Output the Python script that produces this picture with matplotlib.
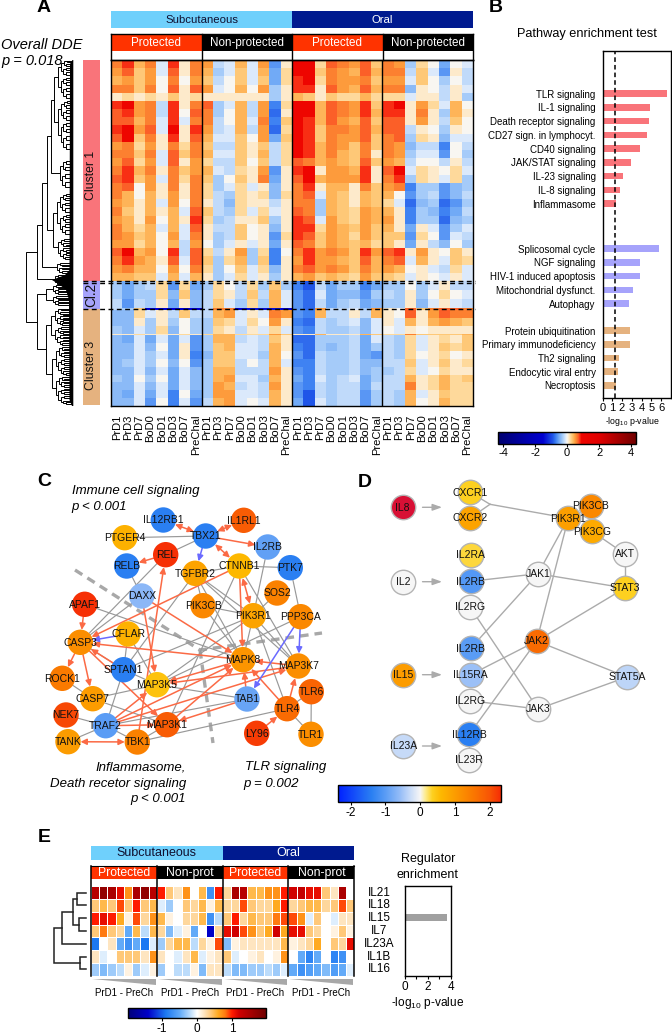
import numpy as np
import matplotlib
matplotlib.use('Agg')
import matplotlib.pyplot as plt
from matplotlib.cm import ScalarMappable
from matplotlib.colors import LinearSegmentedColormap, Normalize
from matplotlib.patches import Rectangle, Polygon

plt.rcParams['font.family'] = ['Liberation Sans', 'DejaVu Sans']
plt.rcParams['mathtext.default'] = 'regular'
plt.rcParams['axes.unicode_minus'] = False

W, H = 672, 1033

# ---- Panel A: heatmap, values in tenths of the colour scale ----
time_labels = ['PrD1', 'PrD3', 'PrD7', 'BoD0', 'BoD1', 'BoD3', 'BoD7', 'PreChal']

heat_cluster1 = [
    [6, 8, 4, 6, -1, 8, 1, 6, 5, -2, -1, 4, -1, 5, -6, 1, 9, 9, 2, 7, 6, 5, 7, 3, 6, 5, -3, 2, 0, -5, 0, -1],
    [5, 7, 3, 5, -1, 7, 1, 6, 4, -3, -1, 3, -1, 4, -5, 2, 9, 9, 3, 6, 5, 4, 7, 4, 6, 6, -2, 3, -1, -6, 1, -2],
    [4, 5, 3, 5, 0, 6, 0, 5, 3, -2, 0, 3, -1, 3, -5, 2, 8, 9, 2, 6, 5, 5, 6, 3, 5, 5, -1, 3, 0, -3, 0, -2],
    [6, 6, 3, 6, 0, 7, 1, 7, 5, -1, 0, 4, 0, 5, -3, 1, 8, 8, 1, 7, 5, 4, 7, 4, 6, 6, -4, 1, 0, -2, 1, -1],
    [1, 2, 1, 2, 1, 3, 1, 2, 1, 1, 1, 1, 1, 1, -3, 1, 4, 3, 1, 3, 2, 2, 4, 2, 2, 2, -1, 1, 1, -2, 1, -3],
    [8, 9, 5, 6, -2, 8, 1, 6, 7, -3, -1, 4, -2, 5, -7, 2, 9, 9, 4, 7, 6, 5, 8, 3, 8, 9, 1, 5, 2, -1, 4, 0],
    [7, 8, 5, 6, -2, 8, 0, 7, 6, -3, 0, 4, -2, 5, -8, 1, 9, 9, 4, 7, 6, 5, 8, 4, 8, 8, 1, 6, 1, -3, 4, 1],
    [7, 7, 4, 6, -1, 8, -1, 6, 6, -2, 0, 4, -1, 6, -7, 3, 9, 8, 4, 7, 5, 4, 7, 3, 7, 7, 1, 5, 1, -2, 3, 0],
    [8, 9, 5, 7, -1, 9, 1, 8, 5, -2, -1, 4, -2, 5, -8, 2, 9, 8, 3, 6, 6, 5, 7, 4, 7, 7, -2, 1, 0, -3, 1, 0],
    [7, 9, 3, 6, 1, 8, 1, 7, 4, -1, -1, 3, 0, 5, -5, 3, 9, 8, 3, 6, 5, 5, 7, 3, 6, 7, -3, 2, 1, -4, -1, -1],
    [5, 6, 2, 5, 1, 6, 2, 6, 3, -2, -2, 3, 1, 3, -2, 2, 9, 8, 4, 6, 5, 3, 6, 3, 6, 5, -4, -2, -2, -7, 0, -2],
    [6, 6, 3, 6, -1, 7, 3, 6, 4, -1, -1, 3, 1, 4, -2, 2, 9, 8, 4, 6, 4, 3, 6, 1, 6, 5, -3, -1, -1, -6, 0, -3],
    [5, 7, 2, 5, -1, 7, 1, 5, 2, -2, -2, 3, 0, 3, -2, 2, 7, 6, 4, 5, 4, 3, 7, 3, 5, 4, -2, 0, 0, -2, 1, -2],
    [6, 8, 4, 6, 1, 6, 3, 5, 4, -1, -2, 2, 1, 5, -6, 1, 8, 9, 1, 5, 5, 4, 8, 1, 7, 9, -1, 2, 1, 0, 2, -1],
    [7, 8, 3, 5, -1, 6, 2, 6, 3, -3, 0, 3, 1, 6, -5, 1, 7, 9, 4, 5, 5, 5, 8, 1, 6, 8, -3, 2, 1, -1, 2, -3],
    [6, 7, 0, 5, 1, 6, 1, 6, 2, -3, -1, 2, -1, 1, -4, 1, 6, 8, 1, 4, 4, 1, 6, 3, 5, 6, -7, -3, -3, -6, -4, -3],
    [6, 4, 0, 4, 1, 5, 1, 6, 2, -2, -3, 2, 1, 2, -4, 2, 6, 7, -1, 4, 3, 1, 4, 3, 4, 0, -6, -3, -2, -6, -4, -2],
    [5, 4, 1, 4, -1, 5, 0, 6, 1, -2, -4, 2, 1, 1, -2, 1, 6, 6, -3, 4, 3, 1, 4, 3, 2, -1, -8, -4, -3, -8, -6, -3],
    [6, 3, 1, 4, 1, 4, -1, 7, 3, -2, -3, 2, -1, 2, -1, 1, 7, 6, -3, 4, 3, 2, 5, 4, 4, 1, -7, -3, -4, -7, -5, -2],
    [5, 4, 1, 5, 0, 4, 1, 8, 2, -3, -2, 1, 1, 3, -3, 1, 8, 7, -1, 5, 3, 2, 5, 4, 5, 1, -7, -3, -3, -8, -4, -3],
    [6, 4, 2, 4, -1, 4, -1, 7, 1, -2, -2, 3, 0, 1, -4, 1, 8, 8, 2, 5, 4, 3, 5, 3, 4, 1, -5, 1, -1, -6, -3, -1],
    [6, 5, 3, 4, 0, 5, -1, 6, 1, -3, -2, 3, 0, 1, -6, 2, 8, 7, 3, 5, 4, 2, 5, 3, 3, 3, -6, 2, 0, -6, -1, -2],
    [5, 5, 2, 4, 0, 4, -2, 5, 0, -3, -1, 1, -1, 1, -5, 1, 7, 6, 3, 5, 4, 3, 4, 2, 3, 1, -5, 1, -2, -4, 0, -3],
    [7, 9, 4, 5, 0, 8, -2, 7, 2, -2, 1, 5, -3, 2, -7, 0, 6, 8, 5, 6, 5, 3, 8, 5, 7, 8, 1, 5, 1, 0, 3, 1],
    [6, 8, 5, 4, 1, 7, -1, 7, 3, -3, 2, 4, -3, 3, -7, 1, 5, 8, 5, 5, 4, 3, 7, 4, 6, 7, -1, 4, 1, -1, 3, 2],
    [5, 6, 4, 4, 0, 5, 0, 6, 2, -3, 0, 3, -1, 2, -4, 1, 6, 7, 5, 6, 5, 3, 6, 4, 5, 4, 0, 1, -1, -2, 2, -1],
    [4, 4, 3, 3, -1, 4, -1, 4, 1, -3, -1, 2, -1, 1, -3, 1, 4, 5, 3, 4, 3, 2, 5, 3, 3, 2, -1, 1, 0, -1, 1, -1],
]
heat_cluster2 = [
    [-3, -5, -3, -2, 2, -6, 2, -5, -3, 2, 0, -2, 2, -3, 3, -3, -7, -9, -2, -5, -3, -3, -7, -5, -3, -3, 0, -3, -1, 1, -2, -2],
    [-3, -5, -3, -3, 2, -4, 3, -4, -2, 2, 1, -2, 3, -2, 4, -1, -6, -8, -1, -5, -4, -4, -6, -3, -2, -3, 1, -3, 0, 2, 0, -1],
    [-2, -6, -2, -3, 1, -5, 1, -4, -2, 3, -1, -3, 2, -3, 4, -1, -6, -8, -2, -5, -3, -2, -5, -4, -3, -3, 1, -4, -1, 1, -1, -2],
]
heat_blue_line = [-2, -3, 3, -15, -15, -15, -15, -15, -2, 6, 6, -15, -14, -14, -14, -15, -6, -8, 5, -2, -2, -1, -3, 5, 1, 0, 7, 3, 6, 7, 7, 6]
heat_cluster3_top = [
    [-4, -4, 2, -1, 1, -2, 3, -2, -2, 4, 5, -1, 1, -1, 6, 5, -6, -7, 4, -2, -2, 1, -2, 4, 1, 0, 7, 1, 5, 7, 6, 6],
    [-4, -4, 1, -3, 1, -3, 0, -3, -3, 3, 2, -1, 2, 0, 5, 1, -7, -8, -2, -3, -2, -1, -4, -1, 1, -1, 4, 1, 4, 5, 4, 3],
    [-3, -4, -1, -3, 2, -4, 0, -3, -3, 2, 1, -2, 1, -1, 2, -1, -6, -7, -2, -3, -3, -2, -4, -1, 0, -1, 1, 0, 1, 1, 1, 1],
]
heat_salmon_line = [1, 1, 2, 1, 1, 1, 2, 1, 2, 4, 4, 2, 2, 2, 5, 3, 1, 1, 4, 1, 1, 1, 4, 3, 2, 2, 6, 3, 3, 3, 3, 4]
heat_cluster3_low = [
    [-4, -5, -1, -5, -1, -5, -1, -6, -3, 4, 4, -2, -1, -2, 3, 1, -8, -8, -3, -3, -3, -2, -5, -1, -2, -3, 2, -1, 1, 2, 1, 3],
    [-4, -4, -1, -4, 0, -5, 1, -6, -3, 3, 4, -1, -1, -2, 4, 1, -7, -8, -3, -4, -3, -2, -5, -3, -2, -3, 2, -1, 1, 3, 2, 3],
    [-4, -4, -1, -3, -1, -5, 1, -7, -4, 3, 3, -1, -1, -3, 4, 0, -6, -8, -2, -3, -3, -2, -5, -6, -2, -3, 2, 0, 1, 2, 0, 1],
    [-4, -3, -1, -3, 0, -4, 0, -6, -3, 3, 3, -2, 0, -2, 4, -1, -7, -7, -2, -3, -3, -2, -4, -4, -2, -2, 3, -1, 1, 3, 1, 2],
    [-4, -4, -1, -4, -1, -5, -1, -4, -3, 4, 4, -2, -2, -2, 5, 1, -6, -7, -2, -3, -3, -2, -4, -3, -3, -2, 2, -1, 0, 2, 1, 1],
    [-3, -4, 0, -3, 0, -5, -1, -4, -3, 4, 5, -1, -1, -3, 4, 1, -5, -7, -1, -3, -2, -1, -5, -3, -2, -2, 4, 1, 2, 4, 2, 3],
    [-4, -4, -1, -4, -1, -5, -1, -4, -3, 5, 4, -2, -1, -2, 5, 1, -6, -7, -2, -3, -2, -2, -5, -2, -2, -2, 6, 1, 2, 4, 2, 2],
    [-4, -5, -1, -5, -1, -7, 0, -5, -3, 5, 5, -1, -1, -2, 4, 1, -6, -9, -2, -3, -2, -2, -6, -3, -2, -3, 4, -1, 1, 3, 2, 2],
    [-4, -4, -1, -6, 0, -7, -1, -6, -2, 4, 5, -1, 0, -1, 4, 1, -5, -9, -1, -3, -2, -2, -6, -3, -2, -3, 4, 0, 1, 4, 2, 2],
]

# ---- Panel B ----
pathways_red = ['TLR signaling', 'IL-1 signaling', 'Death receptor signaling', 'CD27 sign. in lymphocyt.',
                'CD40 signaling', 'JAK/STAT signaling', 'IL-23 signaling', 'IL-8 signaling', 'Inflammasome']
pvals_red = [6.65, 4.9, 4.77, 4.6, 3.85, 2.95, 2.1, 1.75, 1.35]
pathways_blue = ['Splicosomal cycle', 'NGF signaling', 'HIV-1 induced apoptosis', 'Mitochondrial dysfunct.', 'Autophagy']
pvals_blue = [5.75, 3.8, 3.8, 3.1, 2.7]
pathways_tan = ['Protein ubiquitination', 'Primary immunodeficiency', 'Th2 signaling', 'Endocytic viral entry', 'Necroptosis']
pvals_tan = [2.85, 2.85, 1.7, 1.6, 1.35]

# ---- Panel C: node -> z value (colour scale of the bar under panel D) ----
c_values = {
    'IL12RB1': -1.4, 'IL1RL1': 1.9, 'TBX21': -1.4, 'PTGER4': 0.7, 'IL2RB': -0.95, 'REL': 2.3, 'RELB': -1.4,
    'TGFBR2': 0.9, 'CTNNB1': 0.6, 'PTK7': -1.4, 'DAXX': -0.65, 'SOS2': 1.4, 'PIK3CB': 1.3, 'APAF1': 2.3,
    'PIK3R1': 0.9, 'PPP3CA': 1.3, 'CFLAR': 0.7, 'CASP3': 1.2, 'MAPK8': 1.1, 'MAP3K7': 1.2, 'SPTAN1': -1.4,
    'ROCK1': 1.5, 'MAP3K5': 0.5, 'TLR6': 1.8, 'CASP7': 1.0, 'TAB1': -0.9, 'TLR4': 1.7, 'NEK7': 2.1,
    'TRAF2': -1.0, 'MAP3K1': 1.9, 'LY96': 2.2, 'TLR1': 1.2, 'TANK': 1.0, 'TBK1': 1.4,
}
c_gray_edges = [
    ('PTGER4', 'TBX21'), ('REL', 'TBX21'), ('CTNNB1', 'PTK7'), ('TGFBR2', 'CTNNB1'), ('REL', 'CASP3'),
    ('RELB', 'DAXX'), ('TGFBR2', 'SPTAN1'), ('TGFBR2', 'PIK3CB'), ('TGFBR2', 'PIK3R1'), ('TGFBR2', 'MAPK8'),
    ('TGFBR2', 'MAP3K7'), ('CTNNB1', 'MAP3K7'), ('CTNNB1', 'MAP3K1'), ('IL2RB', 'PIK3R1'), ('PTK7', 'PPP3CA'),
    ('SOS2', 'PIK3R1'), ('PIK3CB', 'PIK3R1'), ('PIK3CB', 'MAPK8'), ('PIK3R1', 'MAPK8'), ('PIK3R1', 'MAP3K5'),
    ('PIK3R1', 'SPTAN1'), ('PIK3R1', 'TLR4'), ('PIK3R1', 'MAP3K7'), ('PPP3CA', 'MAP3K5'), ('TAB1', 'MAP3K5'),
    ('TLR4', 'TLR6'), ('TLR4', 'TLR1'), ('TLR6', 'TLR1'), ('TLR4', 'TBK1'), ('TRAF2', 'TAB1'), ('NEK7', 'TRAF2'),
    ('ROCK1', 'CASP7'), ('CASP7', 'MAP3K5'), ('CASP7', 'MAP3K1'), ('TRAF2', 'TANK'), ('TRAF2', 'SPTAN1'),
    ('TRAF2', 'TBK1'), ('SPTAN1', 'CFLAR'), ('SPTAN1', 'MAP3K5'), ('CFLAR', 'MAP3K5'), ('APAF1', 'MAPK8'),
    ('DAXX', 'CASP3'), ('CASP3', 'SPTAN1'), ('TBK1', 'MAP3K1'),
]
c_orange_edges = [
    ('TBX21', 'IL2RB'), ('REL', 'RELB'), ('MAP3K7', 'MAPK8'), ('TLR4', 'MAPK8'), ('TLR4', 'MAP3K7'),
    ('TAB1', 'MAPK8'), ('TAB1', 'MAP3K1'), ('LY96', 'TLR4'), ('MAP3K7', 'MAP3K5'), ('MAPK8', 'MAP3K5'),
    ('MAPK8', 'CASP3'), ('CTNNB1', 'CASP3'), ('APAF1', 'CASP3'), ('CASP3', 'ROCK1'), ('CASP3', 'CASP7'),
    ('SPTAN1', 'CASP3'), ('CASP3', 'MAP3K1'), ('DAXX', 'MAPK8'), ('DAXX', 'MAP3K5'), ('TBK1', 'REL'),
    ('TRAF2', 'MAPK8'), ('TRAF2', 'MAP3K5'), ('TRAF2', 'MAP3K7'), ('TRAF2', 'MAP3K1'), ('MAP3K1', 'MAPK8'),
    ('CTNNB1', 'MAPK8'),
]
c_both_edges = [('TBX21', 'IL12RB1'), ('TBX21', 'IL1RL1'), ('CTNNB1', 'TBX21'), ('CTNNB1', 'PIK3R1'), ('TANK', 'TBK1')]
c_blue_edges = [('TBX21', 'TGFBR2'), ('CFLAR', 'CASP3'), ('PPP3CA', 'MAP3K7'), ('PPP3CA', 'TAB1')]

# ---- Panel D ----
d_values = {
    'IL8': 3, 'CXCR1': 0.35, 'CXCR2': 0.9, 'PIK3CB': 1.3, 'PIK3R1': 0.95, 'PIK3CG': 0.8, 'AKT': 0, 'IL2RA': 0.3,
    'IL2': 0, 'IL2RB': -1.05, 'JAK1': 0, 'STAT3': 0.35, 'IL2RG': 0, 'JAK2': 1.7, 'IL2RB_2': -1.0, 'IL15': 1.0,
    'IL15RA': -0.55, 'STAT5A': -0.35, 'IL2RG_2': 0, 'JAK3': 0, 'IL12RB': -1.4, 'IL23A': -0.3, 'IL23R': 0,
}
d_edges = [
    ('IL2RB', 'JAK1'), ('JAK1', 'PIK3R1'), ('JAK1', 'STAT3'), ('JAK1', 'IL2RB_2'), ('IL2RG', 'JAK3'),
    ('JAK2', 'IL15RA'), ('JAK2', 'PIK3R1'), ('JAK2', 'STAT3'), ('JAK2', 'STAT5A'), ('JAK2', 'IL12RB'),
    ('IL2RG_2', 'JAK3'), ('JAK3', 'STAT5A'), ('PIK3CG', 'AKT'), ('AKT', 'STAT3'), ('IL12RB', 'IL23R'),
]

# ---- Panel E: tenths of the colour scale ----
regulators = ['IL21', 'IL18', 'IL15', 'IL7', 'IL23A', 'IL1B', 'IL16']
heat_regulators = [
    [14, 17, 15, 11, 7, 15, 17, 14, 10, 4, 2, 7, 0, 5, -7, 10, 3, 15, 14, 5, 5, 7, 7, 10, 12, 13, 11, 11, 4, 2, 15, 0],
    [4, 5, 4, 9, 4, 10, 4, 5, -1, -3, 0, 4, 3, 5, 1, 5, 3, 3, 9, 4, 3, 3, 6, 10, 3, 4, 5, 5, 3, 4, 9, 4],
    [10, 11, 10, 6, 1, 9, 3, 7, 5, 1, 0, 3, 3, 5, -7, -2, 4, 10, 3, 5, 4, 4, 8, 9, 9, 7, -1, 4, 0, -1, 2, 2],
    [4, 8, 4, 3, -5, 5, -2, 5, 3, -4, -1, 1, -5, 0, -14, 3, 11, 12, 9, 7, 4, 6, 12, 6, 11, 11, 4, 3, 0, 1, 4, 1],
    [-9, 0, 2, -5, -7, -5, -9, -1, -3, 3, 5, 5, -2, 3, 1, 9, -4, 1, 2, 2, 2, 2, 2, 5, 1, 2, 3, 6, 0, 4, 3, 11],
    [2, -1, 0, 4, 4, 4, 2, 7, 2, 0, -1, 2, 5, -1, 1, 2, 4, -1, 0, 1, 2, 0, 1, 7, 0, -5, -8, -5, 0, -8, -7, 0],
    [-3, -4, -3, -2, 1, -3, -1, 1, -3, 0, -2, -2, 1, -4, 2, 2, -2, -4, -4, -3, -3, -2, -3, -1, -5, -7, -6, -5, -4, -6, -5, -1],
]
regulator_pvals = [0, 0, 3.65, 0, 0, 0, 0]

# ---- colours ----
SUB_BLUE = '#6fd0fc'
ORAL_BLUE = '#001a8f'
PROT_RED = '#ff3300'
C_RED = '#f9747a'
C_BLUE = '#a6a3fb'
C_TAN = '#e5b27f'
EDGE_GRAY = '#999999'
EDGE_ORANGE = '#fb6a45'
EDGE_BLUE = '#6a6aff'


def make_cmap(name, stops, vmin, vmax):
    pos = [(v - vmin) / (vmax - vmin) for v, _ in stops]
    return LinearSegmentedColormap.from_list(name, list(zip(pos, [c for _, c in stops])), N=2048)


cmap_a = make_cmap('a', [(-4.3, '#00006e'), (-2.5, '#0000b0'), (-1.5, '#0000d0'), (-0.9, '#1f55e8'),
                         (-0.7, '#3f82f2'), (-0.5, '#72aaf6'), (-0.3, '#a5cbf9'), (-0.1, '#dbe9fb'),
                         (0, '#f8f6f2'), (0.1, '#fdeacb'), (0.2, '#fed99b'), (0.3, '#fec877'),
                         (0.4, '#feb458'), (0.5, '#fd9c3c'), (0.6, '#fc8030'), (0.7, '#fb5f28'),
                         (0.8, '#f82e14'), (0.9, '#ee0500'), (2, '#e00000'), (4.3, '#700000')], -4.3, 4.3)
cmap_e = make_cmap('e', [(-1.97, '#00007a'), (-1.4, '#0000c8'), (-0.9, '#1c78f2'), (-0.5, '#62aaf8'),
                         (-0.2, '#bcdcfb'), (0, '#ffffff'), (0.2, '#fee5c0'), (0.4, '#ffc878'),
                         (0.6, '#ffaa20'), (0.8, '#ff7a10'), (1.0, '#ff1a00'), (1.2, '#d00000'),
                         (1.97, '#700000')], -1.97, 1.97)
cmap_net = make_cmap('net', [(-2.36, '#0020ff'), (-1.4, '#2a7ff2'), (-1, '#5a9cf5'), (-0.6, '#92bbf7'),
                             (-0.3, '#c6daf8'), (0, '#f6f6f6'), (0.15, '#fdeb90'), (0.35, '#fdd020'),
                             (0.6, '#fdb800'), (1, '#fc9c00'), (1.5, '#fa7a00'), (2, '#f85505'),
                             (2.33, '#f62c05')], -2.36, 2.33)
cmap_net.set_over('#d81035')
norm_net = Normalize(-2.36, 2.33)


def px_axes(x0, y0, x1, y1, **kw):
    """axes from pixel corners of the picture (y downward)"""
    return fig.add_axes([x0 / W, 1 - y1 / H, (x1 - x0) / W, (y1 - y0) / H], **kw)


fig = plt.figure(figsize=(W / 100, H / 100), dpi=100)
fig.patch.set_facecolor('white')

# overlay for header boxes, trees, networks, annotations
ov = fig.add_axes([0, 0, 1, 1], zorder=5)
ov.set_xlim(0, W)
ov.set_ylim(H, 0)
ov.axis('off')
ov.patch.set_alpha(0)


def box(x0, y0, x1, y1, color, text=None, tc='white', fs=8, **kw):
    ov.add_patch(Rectangle((x0, y0), x1 - x0, y1 - y0, facecolor=color, edgecolor='none', **kw))
    if text:
        ov.text((x0 + x1) / 2, (y0 + y1) / 2 + 0.3, text, color=tc, fontsize=fs, ha='center', va='center')


# ---------------- A ----------------
ov.text(44, 7.5, 'A', fontsize=14, fontweight='bold', ha='center', va='center')
ov.text(1, 45, 'Overall DDE', fontsize=10.5, style='italic', va='center')
ov.text(1, 61.5, 'p = 0.018', fontsize=10.5, style='italic', va='center')

A_L, A_R, A_T, A_B = 111, 473, 60, 406
block_a = (A_R - A_L) / 4
box(A_L, 11, A_L + 2 * block_a, 28, SUB_BLUE, 'Subcutaneous', tc='#101030', fs=8.2)
box(A_L + 2 * block_a, 11, A_R, 28, ORAL_BLUE, 'Oral', fs=8.2)
for i, (name, col) in enumerate([('Protected', PROT_RED), ('Non-protected', 'black')] * 2):
    box(A_L + i * block_a, 34.5, A_L + (i + 1) * block_a, 50.5, col, name, fs=8.4)
ov.plot([A_L, A_R], [34, 34], color='black', lw=1)
ov.plot([A_L, A_R], [59.5, 59.5], color='black', lw=1)
for i in range(5):
    ov.plot([A_L + i * block_a] * 2, [34, A_T], color='black', lw=1)

heat_rows = heat_cluster1 + heat_cluster2 + [heat_blue_line] + heat_cluster3_top + [heat_salmon_line] + heat_cluster3_low
row_heights = [221 / len(heat_cluster1)] * len(heat_cluster1) + [27 / len(heat_cluster2)] * len(heat_cluster2) + [2] \
    + [7.875] * len(heat_cluster3_top) + [1.5] + [7.875] * len(heat_cluster3_low)
row_edges = np.concatenate([[0], np.cumsum(row_heights)])
col_edges = np.arange(33)

ax_a = px_axes(A_L, A_T, A_R, A_B)
ax_a.pcolormesh(col_edges, row_edges, np.array(heat_rows) / 10, cmap=cmap_a, vmin=-4.3, vmax=4.3)
ax_a.set_ylim(row_edges[-1], 0)
ax_a.set_xlim(0, 32)
ax_a.set_yticks([])
ax_a.set_xticks(np.arange(32) + 0.5)
ax_a.set_xticklabels(time_labels * 4, rotation=90, fontsize=8)
ax_a.tick_params(axis='x', length=0, pad=6)
for s in ax_a.spines.values():
    s.set_linewidth(1)
for xv in [8, 16, 24]:
    ax_a.axvline(xv, color='black', lw=1)

# cluster strip
box(83, 60, 100, 281, C_RED)
box(83, 281, 100, 309, C_BLUE)
box(83, 309, 100, 405, C_TAN)
for y, txt, fs in [(175, 'Cluster 1', 8.8), (295, 'Cl.2', 9.8), (365, 'Cluster 3', 8.8)]:
    ov.text(91.5, y, txt, rotation=90, fontsize=fs, ha='center', va='center', color='#111111')
for y in [280.6, 282.8, 308.7]:
    ov.plot([83, 475], [y, y], color='black', lw=1, dashes=(3.5, 2.5))


# dendrogram
def bush(x, y0, y1):
    if y1 - y0 < 2.5 or x >= 67:
        return (y0 + y1) / 2
    mid = y0 + 0.42 * (y1 - y0)
    return (x, bush(x + 2.8, y0, mid), bush(x + 2.4, mid, y1))


def draw_tree(ax, node, leaf_x, lw, color='black'):
    if not isinstance(node, tuple):
        return node, leaf_x
    x, a, b = node
    ya, xa = draw_tree(ax, a, leaf_x, lw, color)
    yb, xb = draw_tree(ax, b, leaf_x, lw, color)
    ax.plot([xa, x, x, xb], [ya, ya, yb, yb], color=color, lw=lw, solid_joinstyle='miter')
    return (ya + yb) / 2, x


tree_a = (26,
          (37.3,
           (41.7,
            (47.3,
             (50.7,
              (54.3, bush(58.3, 60, 100), bush(58.3, 100, 152)),
              bush(60, 160, 190)),
             (53.3,
              (57, bush(60, 193, 214), bush(60, 214, 236)),
              bush(58, 238, 260))),
            bush(57, 262, 274)),
           bush(55, 274, 286)),
          (37.3,
           (46,
            bush(53, 284, 295), bush(53, 295, 306)),
           (46,
            (50.5, bush(55, 308, 326), bush(55, 326, 346)),
            (52, bush(56, 346, 376), bush(56, 376, 405)))))
draw_tree(ov, tree_a, 71, 0.7)
wedge_y = [60, 64, 270, 275, 280, 285, 290, 300, 400, 406, 406, 60]
wedge_x = [72.5, 70, 69.5, 65, 52, 60, 66, 69, 69.5, 72, 73.3, 73.3]
ov.add_patch(Polygon(list(zip(wedge_x, wedge_y)), closed=True, facecolor='black', edgecolor='none'))

# ---------------- B ----------------
ov.text(496, 8, 'B', fontsize=14, fontweight='bold', ha='center', va='center')
ov.text(587, 34, 'Pathway enrichment test', fontsize=9.2, ha='center', va='center')
ax_b = px_axes(602.5, 51, 671, 398)
names_b = pathways_red + pathways_blue + pathways_tan
ypos_b = []
for start, group, step in [(0, pathways_red, 1), (11.27, pathways_blue, 1), (17.24, pathways_tan, 0.99)]:
    ypos_b += [start + i * step for i in range(len(group))]
colors_b = [C_RED] * len(pathways_red) + [C_BLUE] * len(pathways_blue) + [C_TAN] * len(pathways_tan)
ax_b.barh(ypos_b, pvals_red + pvals_blue + pvals_tan, height=0.48, color=colors_b)
ax_b.axvline(1.3, color='black', lw=1.1, dashes=(3, 2))
ax_b.set_xlim(0, 7.02)
ax_b.set_ylim(22.13, -3.1)
ax_b.set_yticks(ypos_b)
ax_b.set_yticklabels(names_b, fontsize=7)
ax_b.tick_params(axis='y', length=0, pad=5)
ax_b.set_xticks(range(7))
ax_b.tick_params(axis='x', labelsize=8, length=2, pad=1.5)
ov.text(632, 421, '-log$_{10}$ p-value', fontsize=6.3, ha='center', va='center')
for s in ax_b.spines.values():
    s.set_linewidth(1)

cax_a = px_axes(498.3, 432, 636, 443.5)
cb = fig.colorbar(ScalarMappable(norm=Normalize(-4.3, 4.3), cmap=cmap_a), cax=cax_a, orientation='horizontal',
                  ticks=[-4, -2, 0, 2, 4])
cb.ax.tick_params(labelsize=8, length=2, pad=1.5)
cb.outline.set_linewidth(1)

# ---------------- C ----------------
ov.text(44, 482, 'C', fontsize=14, fontweight='bold', ha='center', va='center')
ov.text(71.5, 491, 'Immune cell signaling', fontsize=9.5, style='italic', va='center')
ov.text(71.5, 507, 'p < 0.001', fontsize=9.5, style='italic', va='center')
ov.text(186, 767, 'Inflammasome,', fontsize=9.5, style='italic', ha='right', va='center')
ov.text(186, 784, 'Death recetor signaling', fontsize=9.5, style='italic', ha='right', va='center')
ov.text(186, 799, 'p < 0.001', fontsize=9.5, style='italic', ha='right', va='center')
ov.text(245, 767, 'TLR signaling', fontsize=9.5, style='italic', va='center')
ov.text(243, 784, 'p = 0.002', fontsize=9.5, style='italic', va='center')

ov.plot([75, 200, 322], [570, 650, 633], color='#a8a8a8', lw=2.4, dashes=(2.6, 1.8), zorder=1)
ov.plot([200, 213], [650, 743], color='#a8a8a8', lw=2.4, dashes=(2.6, 1.8), zorder=1)

c_xy = {
    'IL12RB1': (163.3, 520), 'IL1RL1': (243.7, 520.3), 'TBX21': (205.7, 536), 'PTGER4': (124.7, 537.7),
    'IL2RB': (267.7, 547), 'REL': (165.7, 554.7), 'RELB': (126.7, 566), 'TGFBR2': (195, 573.3),
    'CTNNB1': (239.3, 566), 'PTK7': (290.3, 567.7), 'DAXX': (141.7, 596), 'SOS2': (277, 593),
    'PIK3CB': (203, 605.7), 'APAF1': (84.7, 604.3), 'PIK3R1': (253.3, 615.7), 'PPP3CA': (300.7, 616.7),
    'CFLAR': (128, 634), 'CASP3': (80.3, 642.3), 'MAPK8': (243, 659.7), 'MAP3K7': (298.3, 666),
    'SPTAN1': (123.7, 669.7), 'ROCK1': (62.3, 678.3), 'MAP3K5': (157, 684.7), 'TLR6': (311.3, 691.7),
    'CASP7': (92.7, 698.7), 'TAB1': (247, 699), 'TLR4': (287, 708.7), 'NEK7': (66, 715), 'TRAF2': (105.7, 725.7),
    'MAP3K1': (167, 724.7), 'LY96': (256.7, 733.3), 'TLR1': (311, 734.3), 'TANK': (68, 741.7), 'TBK1': (137.3, 742),
}


def draw_nodes(xy, values, edge=None, size=335, fs=7.5):
    for name, (x, y) in xy.items():
        col = cmap_net(norm_net(values[name]))
        ov.scatter([x], [y], s=size, color=[col], edgecolors=edge or 'none', linewidths=1 if edge else 0, zorder=4)
        ov.text(x, y + 0.3, name.split('_')[0], fontsize=fs, ha='center', va='center', color='#111111', zorder=6)


def draw_arrow(xy, a, b, color, style='-|>', lw=1.1):
    ov.annotate('', xy=xy[b], xytext=xy[a], zorder=3,
                arrowprops=dict(arrowstyle=style + ',head_length=0.45,head_width=0.22', color=color, lw=lw,
                                shrinkA=9, shrinkB=9, mutation_scale=8))


for a, b in c_gray_edges:
    ov.plot(*zip(c_xy[a], c_xy[b]), color=EDGE_GRAY, lw=0.85, zorder=2)
for a, b in c_orange_edges:
    draw_arrow(c_xy, a, b, EDGE_ORANGE)
for a, b in c_both_edges:
    draw_arrow(c_xy, a, b, EDGE_ORANGE, style='<|-|>')
for a, b in c_blue_edges:
    draw_arrow(c_xy, a, b, EDGE_BLUE)
draw_nodes(c_xy, c_values)

# ---------------- D ----------------
ov.text(365, 482.5, 'D', fontsize=14, fontweight='bold', ha='center', va='center')
d_xy = {
    'IL8': (402.7, 507.3), 'CXCR1': (470.3, 492.3), 'CXCR2': (470.3, 518), 'PIK3CB': (590.7, 505.7),
    'PIK3R1': (568.3, 518.3), 'PIK3CG': (592, 531.3), 'AKT': (625, 554), 'IL2RA': (470.7, 555), 'IL2': (403.3, 581.7),
    'IL2RB': (470.7, 581.3), 'JAK1': (538, 573.7), 'STAT3': (625, 588), 'IL2RG': (470, 607), 'JAK2': (536.7, 641),
    'IL2RB_2': (470.7, 648.3), 'IL15': (403.3, 674.7), 'IL15RA': (470.7, 674.7), 'STAT5A': (627, 677),
    'IL2RG_2': (470, 700.7), 'JAK3': (538, 709), 'IL12RB': (469.3, 734.3), 'IL23A': (403.3, 746), 'IL23R': (469.3, 760),
}
EDGE_D = '#ababab'
for a, b in d_edges:
    ov.plot(*zip(d_xy[a], d_xy[b]), color=EDGE_D, lw=1, zorder=2)
junction = (490, 504.3)
for name in ['CXCR1', 'CXCR2', 'PIK3R1']:
    ov.plot(*zip(junction, d_xy[name]), color=EDGE_D, lw=1, zorder=2)
for name in ['IL8', 'IL2', 'IL15', 'IL23A']:
    y = d_xy[name][1]
    ov.annotate('', xy=(442, y), xytext=(422.5, y), zorder=2,
                arrowprops=dict(arrowstyle='-|>,head_length=0.7,head_width=0.25', color=EDGE_D, lw=1,
                                shrinkA=0, shrinkB=0, mutation_scale=8))
draw_nodes(d_xy, d_values, edge='#b4b4b4', size=310, fs=7.5)

cax_net = px_axes(338.3, 785, 501, 801.7)
cb = fig.colorbar(ScalarMappable(norm=norm_net, cmap=cmap_net), cax=cax_net, orientation='horizontal',
                  ticks=[-2, -1, 0, 1, 2], extend='neither')
cb.ax.tick_params(labelsize=8.5, length=2, pad=1.5)
cb.outline.set_linewidth(1)

# ---------------- E ----------------
ov.text(44, 838, 'E', fontsize=14, fontweight='bold', ha='center', va='center')
E_L, E_R, E_T, E_B = 91, 354.3, 886.3, 975.7
block_e = (E_R - E_L) / 4
box(E_L, 845.7, E_L + 2 * block_e, 860.3, SUB_BLUE, 'Subcutaneous', tc='#101030', fs=9)
box(E_L + 2 * block_e, 845.7, E_R, 860.3, ORAL_BLUE, 'Oral', fs=9)
for i, (name, col) in enumerate([('Protected', PROT_RED), ('Non-prot', 'black')] * 2):
    x0 = E_L + i * block_e
    box(x0, 865.7, x0 + block_e, 879, col, name, fs=8.8)
    ov.add_patch(Polygon([(x0 + 1, 979), (x0 + block_e - 1, 979), (x0 + block_e - 1, 985.3)], closed=True,
                         facecolor='#a8a8a8', edgecolor='none'))
    ov.text(x0 + block_e / 2, 992.5, 'PrD1 - PreCh', fontsize=7, ha='center', va='center')
for i in range(5):
    ov.plot([E_L + i * block_e] * 2, [865.7, E_B], color='black', lw=1.1)
ov.plot([E_L, E_R], [865.7, 865.7], color='black', lw=0.8)

ax_e = px_axes(E_L, E_T, E_R, E_B)
ax_e.pcolormesh(np.arange(33), np.arange(8), np.array(heat_regulators) / 10, cmap=cmap_e, vmin=-1.97, vmax=1.97,
                edgecolors='white', linewidth=0.7)
ax_e.set_ylim(7, 0)
ax_e.axis('off')

row_h = (E_B - E_T) / 7
row_y = [E_T + (i + 0.5) * row_h for i in range(7)]
for y, name in zip(row_y, regulators):
    ov.text(379, y, name, fontsize=8.5, ha='center', va='center')

tree_e = (54,
          (62,
           (72.7, (77.3, row_y[0], row_y[1]), (79.3, row_y[2], row_y[3])),
           row_y[4]),
          (80, row_y[5], row_y[6]))
draw_tree(ov, tree_e, 86, 1.1, color='#222222')

ax_r = px_axes(404.7, 885.7, 450.7, E_B)
ax_r.barh(range(7), regulator_pvals, height=0.55, color='#a0a0a0')
ax_r.set_xlim(0, 4)
ax_r.set_ylim(6.5, -0.5)
ax_r.set_yticks([])
ax_r.set_xticks([0, 1, 2, 3, 4])
ax_r.set_xticklabels(['0', '', '2', '', '4'], fontsize=8.5)
ax_r.tick_params(axis='x', length=2, pad=1.5)
ov.text(428, 1003, '-log$_{10}$ p-value', fontsize=8.6, ha='center', va='center')
for s in ax_r.spines.values():
    s.set_linewidth(1)
ov.text(427.7, 859, 'Regulator', fontsize=9, ha='center', va='center')
ov.text(427.7, 875, 'enrichment', fontsize=9, ha='center', va='center')

cax_e = px_axes(128.3, 1008.3, 266, 1018)
cb = fig.colorbar(ScalarMappable(norm=Normalize(-1.97, 1.97), cmap=cmap_e), cax=cax_e, orientation='horizontal',
                  ticks=[-1, 0, 1])
cb.ax.tick_params(labelsize=8.5, length=2, pad=1.5)
cb.outline.set_linewidth(1)

fig.savefig('out.png', dpi=100)
